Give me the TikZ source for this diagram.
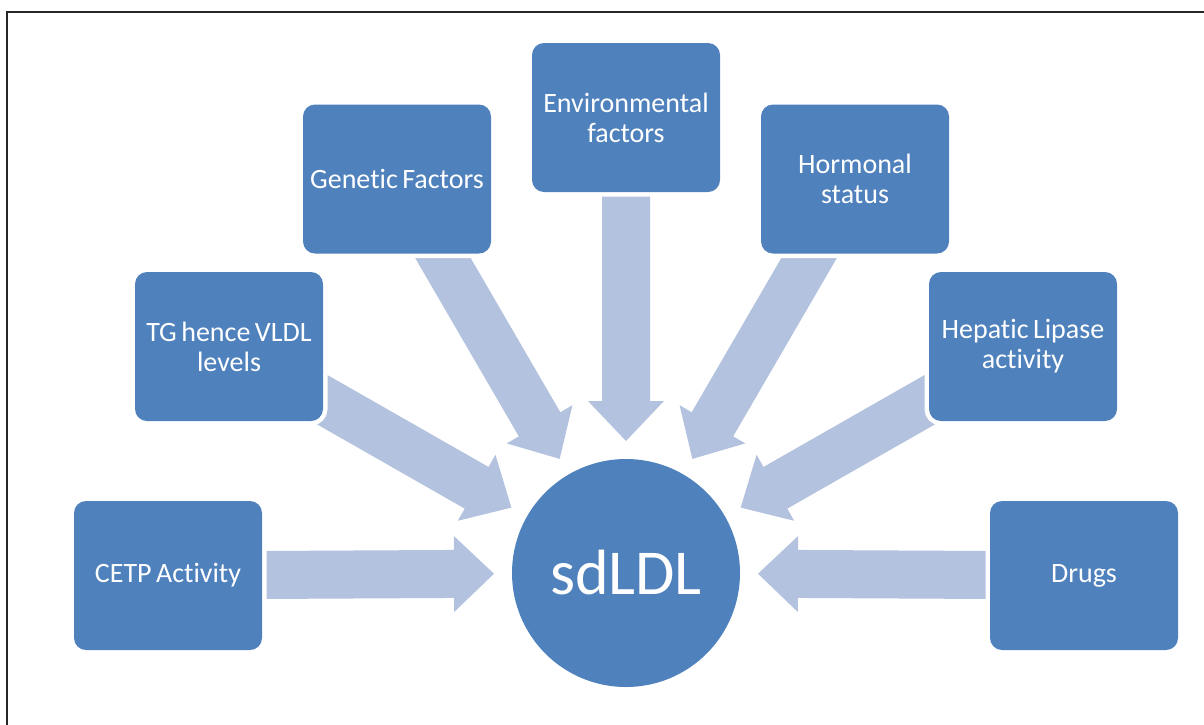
\documentclass[tikz,border=0pt]{standalone}
\usepackage{fontspec}
\setmainfont[Ligatures=NoCommon]{Carlito}
\usetikzlibrary{calc,backgrounds}
\definecolor{boxblue}{RGB}{79,129,189}
\definecolor{arrowblue}{RGB}{179,194,222}
\tikzset{
  factor/.style={rectangle, rounded corners=12pt, fill=boxblue, text=white,
    minimum width=188pt, minimum height=149pt, align=center, text width=186pt,
    inner xsep=1pt, font=\fontsize{28pt}{30pt}\selectfont,
    execute at begin node={\spaceskip=0.16em\relax},
    preaction={draw=white, line width=9pt}},
  hub/.style={circle, fill=boxblue, text=white, minimum size=228pt, inner sep=0pt,
    font=\fontsize{64pt}{70pt}\selectfont},
  blockarrow/.style={fill=arrowblue},
  frameline/.style={draw=black!85, line width=1.5pt}
}
\newcommand\blockarrowto[2]{%
  \coordinate (hb) at ($(#2.center)!172pt!(#1.center)$);
  \coordinate (tp) at ($(#2.center)!132pt!(#1.center)$);
  \fill[blockarrow] (tp)
    -- ($(hb)!38pt!90:(#1.center)$)
    -- ($(hb)!24pt!90:(#1.center)$)
    -- ($(#1.center)!24pt!-90:(#2.center)$)
    -- ($(#1.center)!24pt!90:(#2.center)$)
    -- ($(hb)!24pt!-90:(#1.center)$)
    -- ($(hb)!38pt!-90:(#1.center)$)
    -- cycle;}
\begin{document}
\begin{tikzpicture}[x=1pt,y=-1pt]
\useasboundingbox (0,0) rectangle (1204,724);
\draw[frameline] (7,730) -- (7,12) -- (1210,12);

\node[hub] (c) at (626,573) {sdLDL};
\node[factor] (cetp) at (168,575.5) {CETP Activity};
\node[factor] (tg) at (229,346.5) {TG hence VLDL\\levels};
\node[factor] (gen) at (397,179) {Genetic Factors};
\node[factor] (env) at (626,117.5) {Environmental\\factors};
\node[factor] (hor) at (855,179) {Hormonal\\status};
\node[factor] (hep) at (1023,346.5) {Hepatic Lipase\\activity};
\node[factor] (drug) at (1084,575.5) {Drugs};

\begin{scope}[on background layer]
\blockarrowto{cetp}{c}
\blockarrowto{tg}{c}
\blockarrowto{gen}{c}
\blockarrowto{env}{c}
\blockarrowto{hor}{c}
\blockarrowto{hep}{c}
\blockarrowto{drug}{c}
\end{scope}
\end{tikzpicture}
\end{document}
